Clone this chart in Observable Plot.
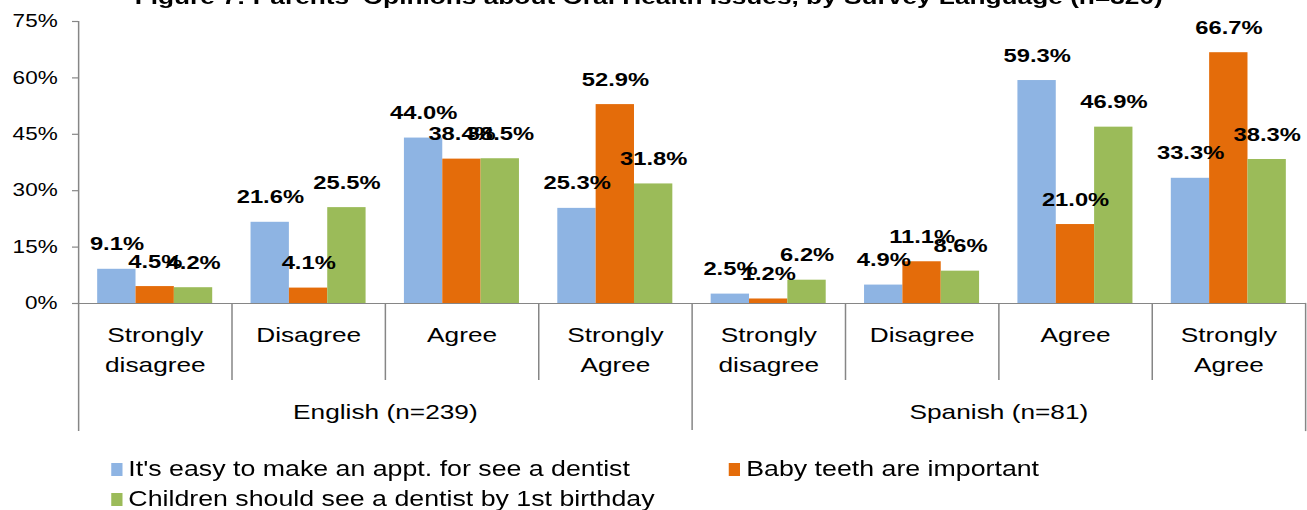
<!DOCTYPE html>
<html>
<head>
<meta charset="utf-8">
<script src="https://cdn.jsdelivr.net/npm/d3@7"></script>
<script src="https://cdn.jsdelivr.net/npm/@observablehq/plot@0.6"></script>
<style>
  body { margin: 0; background: #fff; overflow: hidden; }
  #wrap { position: relative; width: 1046px; height: 510px; transform: scaleX(1.25); transform-origin: 0 0;
          font-family: "Liberation Sans", Arial, sans-serif; color: #000; }
  #title { position: absolute; left: -8px; right: 0; top: -14px; text-align: center; font-weight: bold;
           font-size: 21px; line-height: 21px; white-space: nowrap; }
  #chart { position: absolute; left: 0; top: 0; }
  .leg { position: absolute; font-size: 21.4px; line-height: 30px; white-space: nowrap; }
  .sw { position: absolute; width: 9px; height: 13px; top: 9px; }
</style>
</head>
<body>
<div id="wrap">
  <div id="chart"></div>
  <div id="title"></div>
  <div id="legend"></div>
</div>
<script>
const titleText = "Figure 7: Parents' Opinions about Oral Health Issues, by Survey Language (n=320)";
const languages = ["English (n=239)", "Spanish (n=81)"];
const categories = ["Strongly\ndisagree", "Disagree", "Agree", "Strongly\nAgree"];
const series = [
  "It's easy to make an appt. for see a dentist",
  "Baby teeth are important",
  "Children should see a dentist by 1st birthday"
];
const colors = ["#8EB4E3", "#E46C0A", "#9BBB59"];
// values[category][series]
const englishValues = [[9.1, 4.5, 4.2], [21.6, 4.1, 25.5], [44.0, 38.4, 38.5], [25.3, 52.9, 31.8]];
const spanishValues = [[2.5, 1.2, 6.2], [4.9, 11.1, 8.6], [59.3, 21.0, 46.9], [33.3, 66.7, 38.3]];
const yTicks = [0, 15, 30, 45, 60, 75];

const valuesByLang = [englishValues, spanishValues];
const nGroups = languages.length * categories.length;
const rows = [];
const catRows = [];
const xDomain = [];
for (let li = 0; li < languages.length; li++) {
  for (let ci = 0; ci < categories.length; ci++) {
    const g = li * categories.length + ci;
    series.forEach((s, si) => {
      const key = g + "|" + si;
      xDomain.push(key);
      rows.push({key, series: s, value: valuesByLang[li][ci][si]});
    });
    catRows.push({key: g + "|1", label: categories[ci]});
    if (g < nGroups - 1) xDomain.push("gap" + g);
  }
}
const langRows = languages.map((l, li) => ({key: "gap" + (li * categories.length + 1), label: l}));
const langSep = ["gap" + (categories.length - 1)];
const catSeps = d3.range(nGroups - 1).filter(g => (g + 1) % categories.length !== 0).map(g => "gap" + g);

const gray = "#868686";
const H = 440, MT = 21, MB = 137, plotH = H - MT - MB;
const font = "'Liberation Sans', Arial, sans-serif";

const chart = Plot.plot({
  width: 1046,
  height: H,
  marginLeft: 62.4,
  marginRight: 2,
  marginTop: MT,
  marginBottom: MB,
  style: {fontFamily: font, fontSize: "18px", color: "#000", background: "white", overflow: "visible"},
  x: {type: "band", domain: xDomain, paddingInner: 0, paddingOuter: 0.5, round: false, axis: null},
  y: {domain: [0, 75], axis: null},
  color: {domain: series, range: colors},
  marks: [
    Plot.barY(rows, {x: "key", y: "value", fill: "series"}),
    Plot.ruleY([0], {stroke: gray, strokeWidth: 1.2}),
    Plot.frame({anchor: "left", stroke: gray, strokeWidth: 1.2, insetBottom: -127}),
    Plot.frame({anchor: "right", stroke: gray, strokeWidth: 1.2, insetTop: plotH, insetBottom: -127}),
    Plot.ruleX(langSep, {x: d => d, stroke: gray, strokeWidth: 1.2, insetTop: plotH, insetBottom: -127}),
    Plot.ruleX(catSeps, {x: d => d, stroke: gray, strokeWidth: 1.2, insetTop: plotH, insetBottom: -77}),
    Plot.axisY({ticks: yTicks, tickFormat: d => d + "%", tickSize: 4.8, tickPadding: 12, fontSize: 18,
                stroke: gray, strokeWidth: 1.2, fill: "black", label: null, textStroke: "none"}),
    Plot.text(rows, {x: "key", y: "value", text: d => d.value.toFixed(1) + "%", dy: -25,
                     fontSize: 19, fontWeight: "bold", fill: "black", lineAnchor: "middle"}),
    Plot.text(catRows, {x: "key", frameAnchor: "bottom", text: "label", lineAnchor: "top", dy: 17,
                        fontSize: 21, lineHeight: 1.43, fill: "black"}),
    Plot.text(langRows, {x: "key", frameAnchor: "bottom", text: "label", lineAnchor: "top", dy: 101,
                         fontSize: 21, fill: "black"})
  ]
});
document.getElementById("chart").appendChild(chart);
document.getElementById("title").textContent = titleText;

// legend
const legendPos = [[88.7, 454], [583, 454], [88.7, 484]];
const legend = document.getElementById("legend");
series.forEach((s, i) => {
  const item = document.createElement("div");
  item.className = "leg";
  item.style.left = legendPos[i][0] + "px";
  item.style.top = legendPos[i][1] + "px";
  item.style.paddingLeft = "14px";
  const sw = document.createElement("span");
  sw.className = "sw";
  sw.style.left = "0px";
  sw.style.background = colors[i];
  item.appendChild(sw);
  item.appendChild(document.createTextNode(s));
  legend.appendChild(item);
});
</script>
</body>
</html>
